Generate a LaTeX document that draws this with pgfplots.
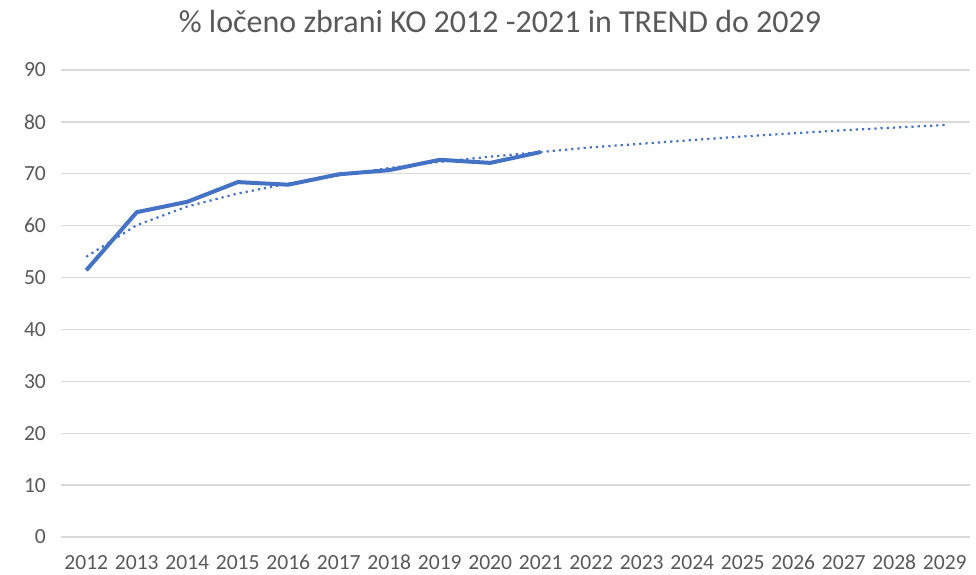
\documentclass[border=0pt]{standalone}
\usepackage{fontspec}
\setmainfont{Carlito}
\usepackage{pgfplots}
\pgfplotsset{compat=1.18}
\definecolor{xlblue}{HTML}{4472C4}
\definecolor{xlgrid}{HTML}{D9D9D9}
\definecolor{xltext}{HTML}{595959}
\begin{document}
\begin{tikzpicture}
\path[use as bounding box] (0,0) rectangle (488pt,287pt);
\node[text=xltext, font=\fontsize{16}{19}\selectfont, anchor=center] at (250pt,276pt)
  {\% ločeno zbrani KO 2012 -2021 in TREND do 2029};
\begin{axis}[
    at={(30.5pt,18.5pt)}, anchor=south west,
    scale only axis,
    width=454.5pt, height=233.5pt,
    xmin=2011.5, xmax=2029.5,
    ymin=0, ymax=90,
    xtick={2012,2013,...,2029},
    ytick={0,10,...,90},
    /pgf/number format/assume math mode=true,
    xticklabel style={/pgf/number format/1000 sep={}},
    x tick label style={font=\fontsize{10.8}{12}\selectfont, text=xltext,
      text height=1.6ex, text depth=0pt, yshift=-5pt},
    y tick label style={font=\fontsize{10.8}{12}\selectfont, text=xltext, xshift=-4pt},
    major tick length=0pt,
    axis line style={draw=none},
    ymajorgrids,
    grid style={xlgrid, line width=0.7pt},
    clip=false,
]
\addplot[xlblue, line width=1.1pt, dotted, dash pattern=on 1.1pt off 2pt] coordinates {
  (2012,54.0) (2013,60.1) (2014,63.7) (2015,66.2) (2016,68.1) (2017,69.7)
  (2018,71.1) (2019,72.3) (2020,73.3) (2021,74.2) (2022,75.1) (2023,75.8)
  (2024,76.5) (2025,77.2) (2026,77.8) (2027,78.4) (2028,78.9) (2029,79.4)
};
\addplot[xlblue, line width=2pt, line join=round] coordinates {
  (2012,51.4) (2013,62.6) (2014,64.6) (2015,68.4) (2016,67.9)
  (2017,69.9) (2018,70.7) (2019,72.7) (2020,72.1) (2021,74.2)
};
\end{axis}
\end{tikzpicture}
\end{document}
